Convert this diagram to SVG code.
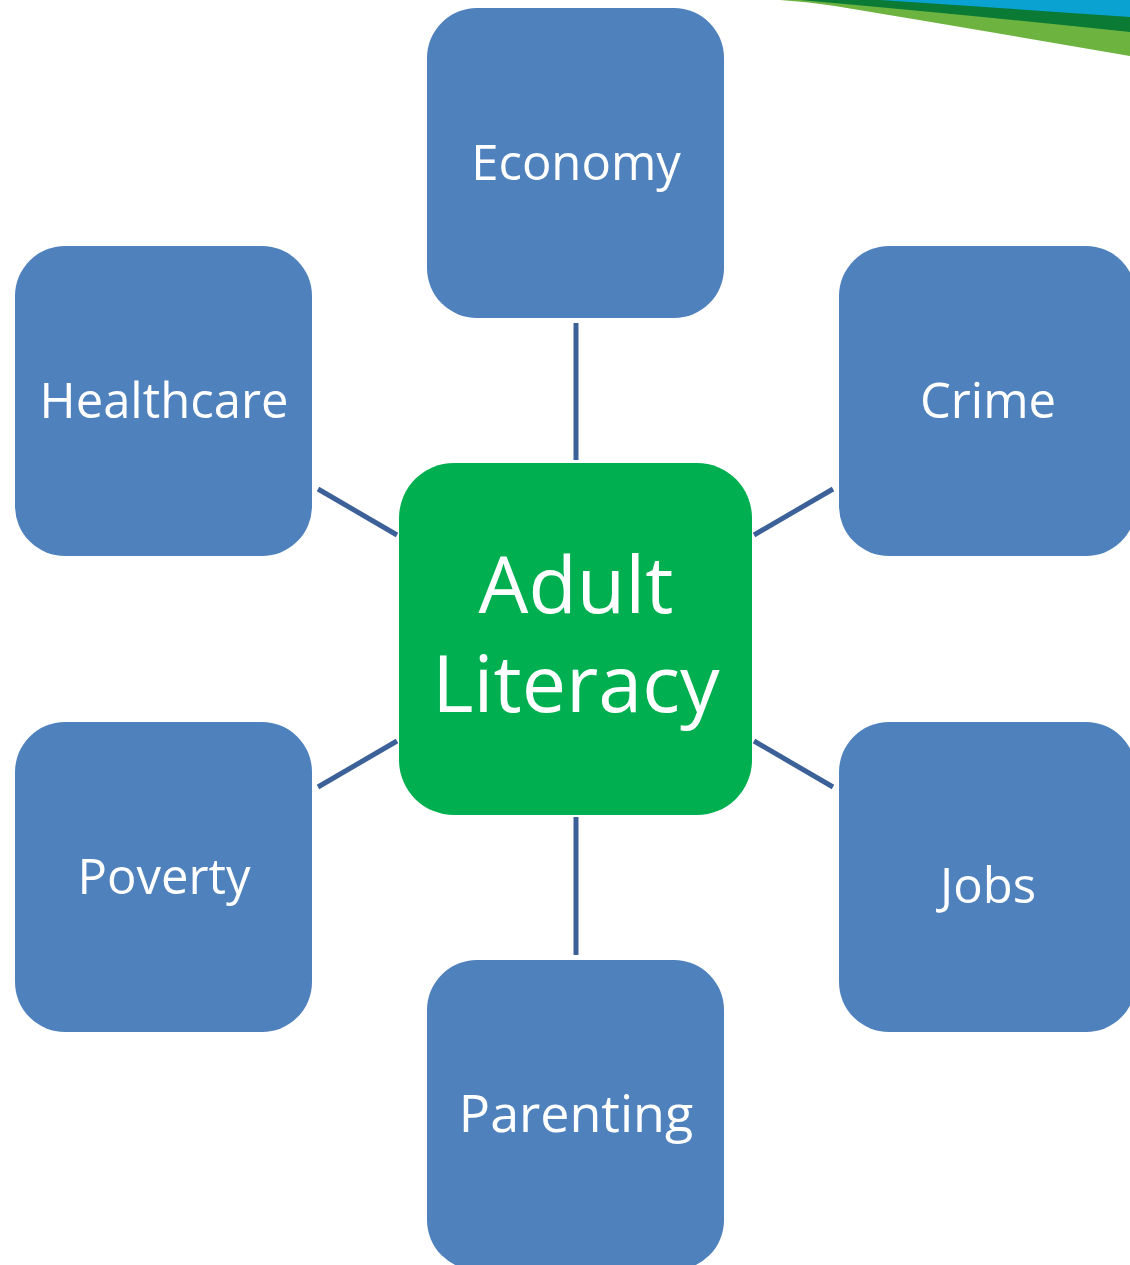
<svg xmlns="http://www.w3.org/2000/svg" width="1130" height="1265" viewBox="0 0 1130 1265">
<style>
.node{fill:#4F81BD;}
.center{fill:#00AF50;}
.lbl{font-family:"Open Sans","Noto Sans",sans-serif;fill:#FFFFFF;text-anchor:middle;font-size:49px;}
.big{font-size:79px;}
.conn{stroke:#3B6198;stroke-width:5;fill:none;}
</style>
<rect width="1130" height="1265" fill="#FFFFFF"/>
<g id="swoosh">
<path d="M780,0 L1130,0 L1130,56 Q980,30 835,6 Q810,2 780,0 Z" fill="#6CB33F"/>
<path d="M780,0 L1130,0 L1130,32 Q970,15 800,0 Z" fill="#0A7A35"/>
<path d="M820,0 L1130,0 L1130,17 Q1000,8 880,0 Z" fill="#0AA2D0"/>
</g>
<g id="connectors">
<line class="conn" x1="576" y1="323" x2="576" y2="460"/>
<line class="conn" x1="576" y1="817" x2="576" y2="955"/>
<line class="conn" x1="318" y1="489" x2="397" y2="535"/>
<line class="conn" x1="833" y1="489" x2="754" y2="535"/>
<line class="conn" x1="318" y1="787" x2="397" y2="741"/>
<line class="conn" x1="754" y1="741" x2="833" y2="787"/>
</g>
<g id="economy"><rect class="node" x="427" y="8" width="297" height="310" rx="50"/><text class="lbl" x="576" y="180">Economy</text></g>
<g id="healthcare"><rect class="node" x="15" y="246" width="297" height="310" rx="50"/><text class="lbl" x="164" y="418">Healthcare</text></g>
<g id="crime"><rect class="node" x="839" y="246" width="297" height="310" rx="50"/><text class="lbl" x="988" y="418">Crime</text></g>
<g id="poverty"><rect class="node" x="15" y="722" width="297" height="310" rx="50"/><text class="lbl" x="164" y="894">Poverty</text></g>
<g id="jobs"><rect class="node" x="839" y="722" width="297" height="310" rx="50"/><text class="lbl" x="988" y="903">Jobs</text></g>
<g id="parenting"><rect class="node" x="427" y="960" width="297" height="310" rx="50"/><text class="lbl" x="576" y="1132" style="font-size:52px">Parenting</text></g>
<g id="adult-literacy"><rect class="center" x="399" y="463" width="353" height="352" rx="55"/><text class="lbl big" x="576" y="613">Adult</text><text class="lbl big" x="576" y="712">Literacy</text></g>
</svg>
